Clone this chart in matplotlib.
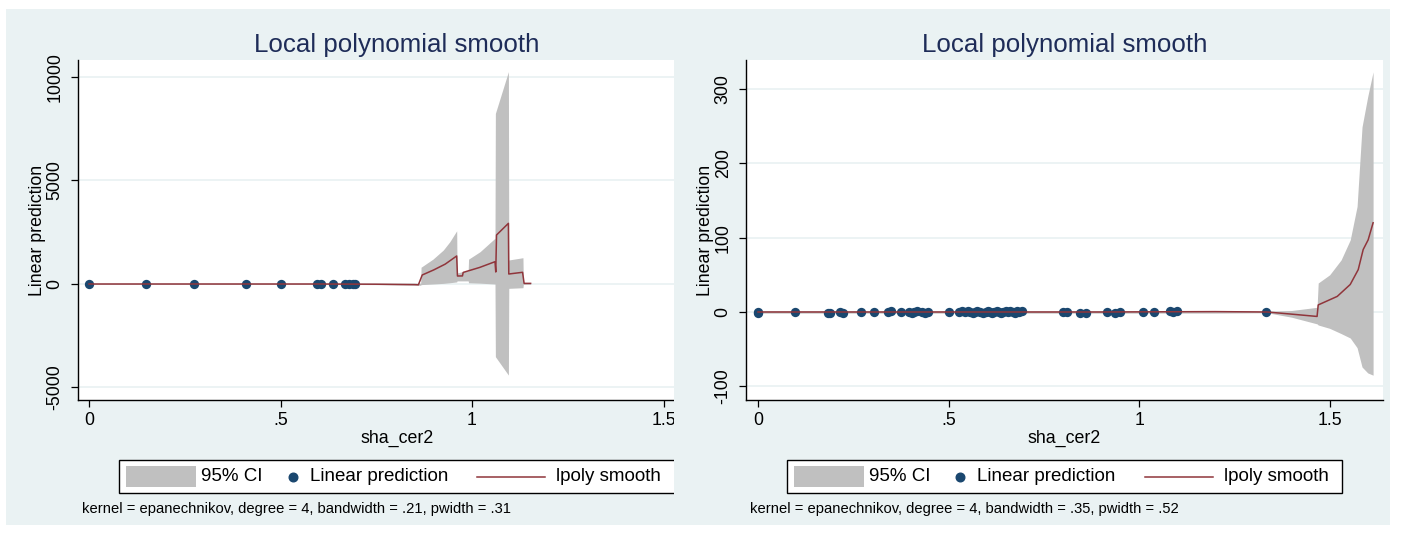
import matplotlib
matplotlib.use("Agg")
import matplotlib.pyplot as plt
import matplotlib.transforms as mtransforms
from matplotlib.patches import Rectangle
from matplotlib.lines import Line2D
from matplotlib.offsetbox import AnchoredOffsetbox, HPacker, DrawingArea, TextArea

plt.rcParams['font.family'] = ['Liberation Sans', 'DejaVu Sans']

# ---------------- data: left panel ----------------
L_pt_x = [0.0, 0.149, 0.274, 0.41, 0.50, 0.595, 0.606, 0.637, 0.668, 0.68, 0.688, 0.695]
L_pt_y = [0, 0, 0, 0, 0, 0, 0, 0, 0, 0, 0, 0]

L_sm_x = [0.0, 0.3, 0.6, 0.75, 0.85, 0.860, 0.870, 0.90, 0.93, 0.960, 0.962, 0.975, 0.977,
          1.02, 1.060, 1.062, 1.064, 1.095, 1.096, 1.132, 1.136, 1.153]
L_sm_y = [0, 0, 0, -10, -30, -40, 435, 680, 960, 1353, 386, 390, 560,
          800, 1077, 580, 2367, 2930, 483, 565, 30, 30]

L_ci_x = [0.0, 0.3, 0.6, 0.75, 0.85, 0.866, 0.867, 0.898, 0.925, 0.942, 0.960, 0.961, 0.975,
          0.990, 0.991, 1.021, 1.060, 1.061, 1.095, 1.096, 1.133, 1.134, 1.153]
L_ci_hi = [15, 15, 20, 30, 40, 40, 810, 1200, 1640, 2040, 2570, 530, 600,
           640, 1200, 1560, 2210, 8240, 10260, 1160, 1270, 20, 20]
L_ci_lo = [-15, -15, -20, -30, -60, -60, -30, 0, 30, 60, 100, 150, 150,
           150, 60, 40, 0, -3510, -4400, -210, -180, -20, -20]

# ---------------- data: right panel ----------------
R_pt_x = [0.0, 0.0, 0.097, 0.184, 0.19, 0.215, 0.223, 0.27, 0.304, 0.341, 0.35, 0.376, 0.397,
          0.403, 0.409, 0.418, 0.43, 0.437, 0.446, 0.5, 0.527, 0.535, 0.543, 0.55, 0.556, 0.563,
          0.57, 0.575, 0.582, 0.59, 0.597, 0.603, 0.609, 0.615, 0.62, 0.627, 0.632, 0.638, 0.643,
          0.65, 0.655, 0.662, 0.668, 0.674, 0.68, 0.686, 0.693, 0.80, 0.81, 0.845, 0.861, 0.916,
          0.937, 0.95, 1.01, 1.04, 1.08, 1.09, 1.10, 1.333]
R_pt_y = [0, -2, 0, -1, -2, 0, -1, 0, 0, 0, 1, 0, 0,
          -1, 0, 1, 0, -1, 0, 0, 0, 1, 0, 1, 0, -1,
          0, 1, 0, -1, 0, 1, 0, -1, 0, 1, 0, -1, 0,
          1, 0, 1, 0, -1, 1, 0, 1, 0, 0, -1, -1, 0,
          -1, 0, 0, 0, 1, 0, 1, 0]

R_sm_x = [0.0, 0.3, 0.6, 0.9, 1.2, 1.336, 1.396, 1.467, 1.470, 1.52, 1.554, 1.575, 1.588, 1.601, 1.614]
R_sm_y = [0, 0, 0, 0, 0.5, 0, -2.7, -6, 9.5, 21, 37, 57, 84, 97, 120]

R_ci_x = [0.0, 0.5, 1.0, 1.2, 1.336, 1.40, 1.467, 1.470, 1.50, 1.53, 1.554, 1.572, 1.585, 1.60, 1.614]
R_ci_hi = [1.5, 1.5, 1.5, 1.5, 1.0, 2.0, 6.3, 39, 50, 70, 97, 142, 249, 290, 323]
R_ci_lo = [-1.5, -1.5, -1.5, -1.5, -1.0, -7, -16, -17.5, -22, -29, -35, -48, -74, -82, -85]

X_TICKS = [0, 0.5, 1, 1.5]
X_TICKLABELS = ['0', '.5', '1', '1.5']
L_Y_TICKS = [-5000, 0, 5000, 10000]
R_Y_TICKS = [-100, 0, 100, 200, 300]

TITLE = 'Local polynomial smooth'
XLABEL = 'sha_cer2'
YLABEL = 'Linear prediction'
LEGEND_LABELS = ['95% CI', 'Linear prediction', 'lpoly smooth']
L_NOTE = 'kernel = epanechnikov, degree = 4, bandwidth = .21, pwidth = .31'
R_NOTE = 'kernel = epanechnikov, degree = 4, bandwidth = .35, pwidth = .52'

# ---------------- style ----------------
BG = '#EAF2F3'
CI_COLOR = '#C0C0C0'
PT_COLOR = '#1A476F'
LINE_COLOR = '#90353B'
TITLE_COLOR = '#1E2C58'

W, H = 1407, 533
fig = plt.figure(figsize=(W / 100, H / 100), dpi=100)
fig.patch.set_facecolor('white')


def fx(px):
    return px / W


def fy(py):
    return 1 - py / H


fig.add_artist(Rectangle((fx(6), fy(525)), fx(674) - fx(6), fy(9) - fy(525),
                         transform=fig.transFigure, fc=BG, ec='none', zorder=-1))
fig.add_artist(Rectangle((fx(674), fy(525)), fx(1390) - fx(674), fy(9) - fy(525),
                         transform=fig.transFigure, fc=BG, ec='none', zorder=0.5))

axL = fig.add_axes([fx(78), fy(400), fx(716) - fx(78), fy(60) - fy(400)])
axR = fig.add_axes([fx(746), fy(400), fx(1383) - fx(746), fy(60) - fy(400)])
axR.set_zorder(1)

LEG_FS = 13.5


def add_legend(ax, zorder):
    k = 0.72
    h = 33 * k
    da1 = DrawingArea(82 * k, h)
    da1.add_artist(Rectangle((7 * k, (33 - 21) / 2 * k), 70 * k, 21 * k, fc=CI_COLOR, ec='none'))
    t1 = TextArea(LEGEND_LABELS[0], textprops=dict(fontsize=LEG_FS, color='black'))
    da2 = DrawingArea(47 * k, h)
    da2.add_artist(Line2D([30 * k], [h / 2], marker='o', ms=6.2, color=PT_COLOR, ls='none'))
    t2 = TextArea(LEGEND_LABELS[1], textprops=dict(fontsize=LEG_FS, color='black'))
    da3 = DrawingArea(108 * k, h)
    da3.add_artist(Line2D([29 * k, 97 * k], [h / 2, h / 2], color=LINE_COLOR, lw=1.1))
    t3 = TextArea(LEGEND_LABELS[2], textprops=dict(fontsize=LEG_FS, color='black'))
    da4 = DrawingArea(14 * k, h)
    pack = HPacker(children=[da1, t1, da2, t2, da3, t3, da4], align='center', pad=0, sep=0)
    box = AnchoredOffsetbox(loc='upper center', child=pack, pad=0, borderpad=0, frameon=True,
                            bbox_to_anchor=(0.5, fy(460)),
                            bbox_transform=mtransforms.blended_transform_factory(ax.transAxes, fig.transFigure))
    box.patch.set_edgecolor('black')
    box.patch.set_linewidth(1.0)
    box.patch.set_facecolor('white')
    box.set_zorder(zorder)
    fig.add_artist(box)


def draw_panel(ax, ci_x, ci_lo, ci_hi, pt_x, pt_y, sm_x, sm_y, xlim, ylim, yticks, ylab_x):
    ax.set_facecolor('white')
    ax.fill_between(ci_x, ci_lo, ci_hi, color=CI_COLOR, lw=0, zorder=1)
    ax.scatter(pt_x, pt_y, s=45, color=PT_COLOR, lw=0, zorder=2)
    ax.plot(sm_x, sm_y, color=LINE_COLOR, lw=1.1, zorder=3)
    ax.set_xlim(*xlim)
    ax.set_ylim(*ylim)
    ax.set_xticks(X_TICKS)
    ax.set_xticklabels(X_TICKLABELS)
    ax.set_yticks(yticks)
    ax.set_yticklabels([str(v) for v in yticks])
    for s in ['top', 'right']:
        ax.spines[s].set_visible(False)
    for s in ['left', 'bottom']:
        ax.spines[s].set_linewidth(1.0)
        ax.spines[s].set_color('black')
    ax.tick_params(axis='both', direction='out', length=5, width=0.9, colors='black', labelsize=12.8)
    ax.tick_params(axis='x', pad=3.4)
    ax.tick_params(axis='y', pad=5.3)
    for lab in ax.get_yticklabels():
        lab.set_rotation(90)
        lab.set_va('center')
    ax.yaxis.grid(True, color=BG, lw=1.3)
    ax.set_axisbelow(True)
    ax.set_title(TITLE, fontsize=18.6, color=TITLE_COLOR, pad=5.8)
    ax.set_xlabel(XLABEL, fontsize=12.8)
    ax.xaxis.set_label_coords(0.5, -0.088)
    ax.set_ylabel(YLABEL, fontsize=12.8)
    ax.yaxis.set_label_coords(ylab_x, 0.5)


draw_panel(axL, L_ci_x, L_ci_lo, L_ci_hi, L_pt_x, L_pt_y, L_sm_x, L_sm_y,
           (-0.0287, 1.637), (-5604, 10821), L_Y_TICKS, (46 - 78) / 638)
draw_panel(axR, R_ci_x, R_ci_lo, R_ci_hi, R_pt_x, R_pt_y, R_sm_x, R_sm_y,
           (-0.0315, 1.640), (-118.4, 339), R_Y_TICKS, (714 - 746) / 637)

add_legend(axL, 0.2)
add_legend(axR, 2)

fig.text(fx(82), fy(509), L_NOTE, fontsize=10.6, va='center', ha='left', zorder=0.3)
fig.text(fx(750), fy(509), R_NOTE, fontsize=10.6, va='center', ha='left', zorder=3)

fig.savefig('out.png', dpi=100)
